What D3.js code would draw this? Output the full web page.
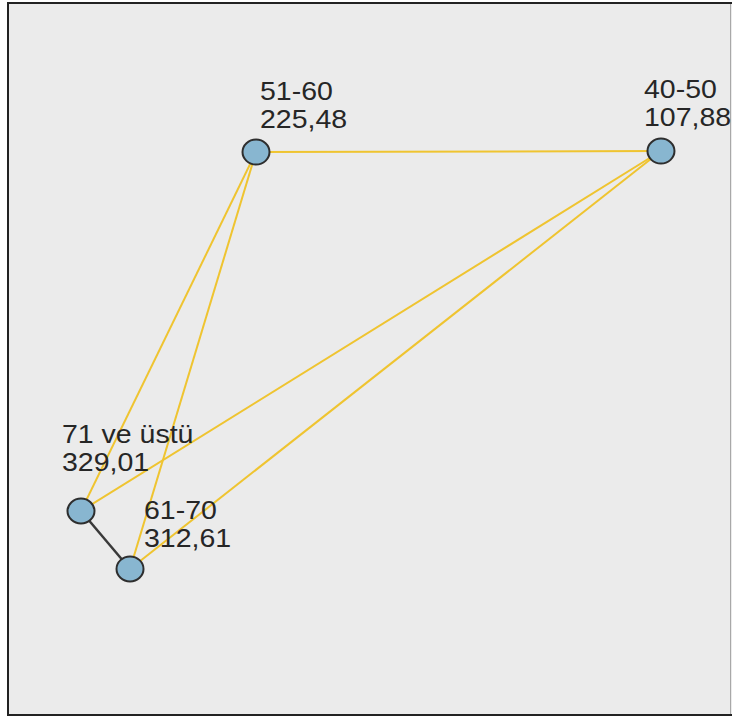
<!DOCTYPE html>
<html>
<head>
<meta charset="utf-8">
<script src="https://cdn.jsdelivr.net/npm/d3@7"></script>
<style>
  html, body { margin: 0; padding: 0; background: #fff; }
</style>
</head>
<body>
<div id="chart"></div>
<script>
// nodes: age groups and mean rank
const groups = ["51-60", "40-50", "71 ve üstü", "61-70"];
const meanRanks = ["225,48", "107,88", "329,01", "312,61"];
// relative layout position of each node inside the panel (0..1)
const nodeX = [0.3435, 0.9044, 0.1011, 0.169];
const nodeY = [0.2093, 0.2079, 0.7135, 0.7949];

// pairwise comparisons: significant (yellow) vs not (dark)
const links = [
  { source: "51-60", target: "40-50", sig: true },
  { source: "51-60", target: "71 ve üstü", sig: true },
  { source: "51-60", target: "61-70", sig: true },
  { source: "40-50", target: "71 ve üstü", sig: true },
  { source: "40-50", target: "61-70", sig: true },
  { source: "71 ve üstü", target: "61-70", sig: false }
];

// label offset relative to node (px)
const labelDx = [4, -17, -19, 14];
const labelDy = [-52, -53, -68, -50];

const width = 732, height = 717;

const svg = d3.select("#chart")
  .append("svg")
  .attr("width", width)
  .attr("height", height);

// panel
svg.append("rect")
  .attr("x", 8).attr("y", 3)
  .attr("width", 730).attr("height", 712)
  .attr("fill", "#ebebeb")
  .attr("stroke", "#222")
  .attr("stroke-width", 2);

svg.append("line")
  .attr("x1", 730.5).attr("x2", 730.5)
  .attr("y1", 4).attr("y2", 714)
  .attr("stroke", "#a8a8a8")
  .attr("stroke-width", 1);

const x = d3.scaleLinear().domain([0, 1]).range([8, 730]);
const y = d3.scaleLinear().domain([0, 1]).range([3, 715]);

const nodes = groups.map((g, i) => ({
  name: g, rank: meanRanks[i], x: x(nodeX[i]), y: y(nodeY[i]), dx: labelDx[i], dy: labelDy[i]
}));
const byName = {};
nodes.forEach(n => byName[n.name] = n);

// edges
svg.selectAll(".link")
  .data(links)
  .enter().append("line")
  .attr("class", "link")
  .attr("x1", d => byName[d.source].x)
  .attr("y1", d => byName[d.source].y)
  .attr("x2", d => byName[d.target].x)
  .attr("y2", d => byName[d.target].y)
  .attr("stroke", d => d.sig ? "#efc430" : "#3a3a3a")
  .attr("stroke-width", d => d.sig ? 2 : 2.5);

// nodes
svg.selectAll(".node")
  .data(nodes)
  .enter().append("ellipse")
  .attr("class", "node")
  .attr("cx", d => d.x)
  .attr("cy", d => d.y)
  .attr("rx", 13.5)
  .attr("ry", 12.5)
  .attr("fill", "#88b6d0")
  .attr("stroke", "#2e2e2e")
  .attr("stroke-width", 2);

// labels
const labels = svg.selectAll(".label")
  .data(nodes)
  .enter().append("text")
  .attr("class", "label")
  .attr("transform", d => `translate(${d.x + d.dx},${d.y + d.dy}) scale(1.14,1)`)
  .style("font-family", "'Liberation Sans', Arial, sans-serif")
  .style("font-size", "25px")
  .style("fill", "#262626");

labels.append("tspan").attr("x", 0).attr("y", 0).text(d => d.name);
labels.append("tspan").attr("x", 0).attr("y", 28).text(d => d.rank);
</script>
</body>
</html>
